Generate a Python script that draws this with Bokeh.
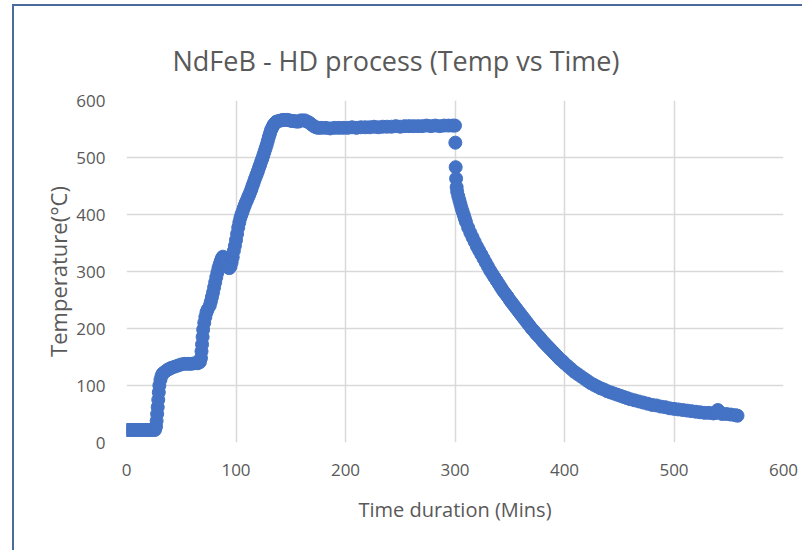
from bokeh.plotting import figure
from bokeh.models import FixedTicker, InlineStyleSheet, Range1d
from bokeh.embed import file_html
from bokeh.resources import INLINE

# ---- data ----
time_heat_start = [0, 2, 4, 6, 8, 10, 12, 14, 16, 18, 20, 22, 24, 26,
                   27, 27.5, 28, 28.5, 29, 29.5, 30, 31, 32, 33, 35, 37, 39, 41, 44, 47,
                   50, 53, 56, 59, 62, 65, 67, 68, 68.5, 69, 69.5, 70, 71, 72, 73, 74]
temp_heat_start = [22, 22, 22, 22, 22, 22, 22, 22, 22, 22, 22, 22, 22, 22,
                   28, 38, 50, 62, 75, 88, 100, 110, 117, 121, 124, 127, 129, 131, 133, 135,
                   137, 138, 138, 138, 139, 139, 141, 148, 160, 172, 185, 198, 210, 220, 228, 233]

time_ramp = [76, 77, 78, 79, 80, 81, 82, 83, 84, 85, 86, 87, 88, 89, 90, 91, 92, 93, 94, 95,
             96, 97, 98, 99, 100, 101, 102, 103, 104, 105, 106, 107, 108, 109, 110, 111, 112,
             113, 114, 115, 116, 117, 118, 119, 120, 121, 122, 123, 124, 125, 126, 127, 128,
             129, 130, 131, 132, 133, 134, 135, 136, 137]
temp_ramp = [240, 247, 255, 263, 272, 281, 290, 298, 306, 312, 318, 323, 326, 324, 320, 315,
             310, 307, 306, 309, 316, 325, 336, 345, 355, 366, 377, 386, 394, 400, 405, 411,
             416, 421, 425, 430, 434, 439, 444, 450, 455, 461, 466, 471, 476, 482, 487, 493,
             498, 504, 510, 516, 522, 529, 536, 542, 548, 552, 556, 559, 561, 563]

time_hold = [139, 141, 143, 145, 147, 149, 151, 153, 155, 157, 159, 161, 163, 165, 167, 169,
             171, 173, 175, 178, 182, 186, 190, 194, 198, 202, 206, 210, 214, 218, 222, 226,
             230, 234, 238, 242, 246, 250, 254, 258, 262, 266, 270, 274, 278, 282, 286, 290,
             294, 298, 300]
temp_hold = [564, 565, 566, 566, 566, 565, 564, 564, 563, 563, 565, 565, 565, 563, 561, 558,
             555, 553, 552, 552, 552, 551, 552, 552, 552, 552, 553, 552, 553, 553, 553, 554,
             553, 554, 554, 554, 555, 554, 555, 555, 555, 555, 555, 556, 555, 556, 555, 556,
             556, 556, 556]

time_cool = [300.3, 300.6, 301, 301.5, 302, 303, 304, 305, 306, 307, 308, 309, 310,
             312, 314, 316, 318, 320, 322, 324, 326, 328, 330, 332, 334, 336, 338, 340, 342,
             344, 346, 348, 350, 352, 354, 356, 358, 360, 362, 364, 366, 368, 370, 372, 374,
             376, 378, 380, 382, 384, 386, 388, 390, 392, 394, 396, 398, 400, 403, 406, 409,
             412, 415, 418, 421, 424, 427, 430, 433, 436, 439, 442, 445, 448, 451, 454, 457,
             460, 464, 468, 472, 476, 480, 484, 488, 492, 496, 500, 504, 508, 512, 516, 520,
             524, 528, 532, 536, 539, 540, 541, 544, 548, 552, 556, 558]
temp_cool = [526, 483, 463, 448, 440, 432, 425, 418, 411, 405, 399, 393, 387,
             377, 368, 360, 352, 344, 337, 330, 323, 316, 309, 302, 296, 290, 284, 278, 272,
             266, 261, 256, 250, 245, 240, 235, 230, 225, 220, 215, 210, 205, 200, 196, 191,
             187, 183, 178, 174, 170, 166, 162, 158, 154, 150, 146, 143, 139, 134, 129, 124,
             120, 116, 112, 108, 104, 101, 98, 95, 93, 90, 88, 86, 84, 82, 80, 78,
             76, 74, 72, 70, 68, 66, 65, 63, 62, 60, 59, 58, 57, 56, 55, 54,
             53, 52, 52, 51, 52, 57, 55, 50, 50, 49, 48, 47]

time_min = time_heat_start + time_ramp + time_hold + time_cool
temp_c = temp_heat_start + temp_ramp + temp_hold + temp_cool

x_ticks = [0, 100, 200, 300, 400, 500, 600]
y_ticks = [0, 100, 200, 300, 400, 500, 600]

TEXT = "#595959"
FONT = "Open Sans"

p = figure(width=790, height=546,
           x_range=Range1d(0, 600), y_range=Range1d(0, 600),
           output_backend="svg", toolbar_location=None,
           min_border_left=112, min_border_right=21,
           min_border_top=94, min_border_bottom=110)

p.stylesheets = [InlineStyleSheet(css=":host { margin-left: 12px; margin-top: 4px; border-left: 2px solid #4a6b9b; border-top: 2px solid #4a6b9b; }")]

p.outline_line_color = None
p.background_fill_color = "white"
p.border_fill_color = "white"

p.title.text = "NdFeB - HD process (Temp vs Time)"
p.title.align = "left"
p.title.offset = 46
p.title.standoff = 43
p.title.text_font = FONT
p.title.text_font_size = "27px"
p.title.text_font_style = "normal"
p.title.text_color = TEXT

for ax, ticks in ((p.xaxis, x_ticks), (p.yaxis, y_ticks)):
    ax.ticker = FixedTicker(ticks=ticks)
    ax.axis_line_color = None
    ax.major_tick_line_color = None
    ax.minor_tick_line_color = None
    ax.major_label_text_font = FONT
    ax.major_label_text_font_size = "17px"
    ax.major_label_text_color = TEXT
    ax.axis_label_text_font = FONT
    ax.axis_label_text_font_style = "normal"
    ax.axis_label_text_color = TEXT

p.xaxis.axis_label = "Time duration (Mins)"
p.yaxis.axis_label = "Temperature(°C)"
p.xaxis.axis_label_text_font_size = "20px"
p.yaxis.axis_label_text_font_size = "22px"
p.xaxis.major_label_standoff = 15
p.yaxis.major_label_standoff = 15
p.xaxis.axis_label_standoff = 17
p.yaxis.axis_label_standoff = 0

p.xgrid.ticker = FixedTicker(ticks=x_ticks)
p.ygrid.ticker = FixedTicker(ticks=y_ticks)
for g in (p.xgrid, p.ygrid):
    g.grid_line_color = "#d9d9d9"
    g.grid_line_width = 1.5

p.scatter(time_min, temp_c, size=13, marker="circle",
          fill_color="#4472C4", line_color="#4472C4")

open("out.html", "w").write(file_html(p, INLINE))
